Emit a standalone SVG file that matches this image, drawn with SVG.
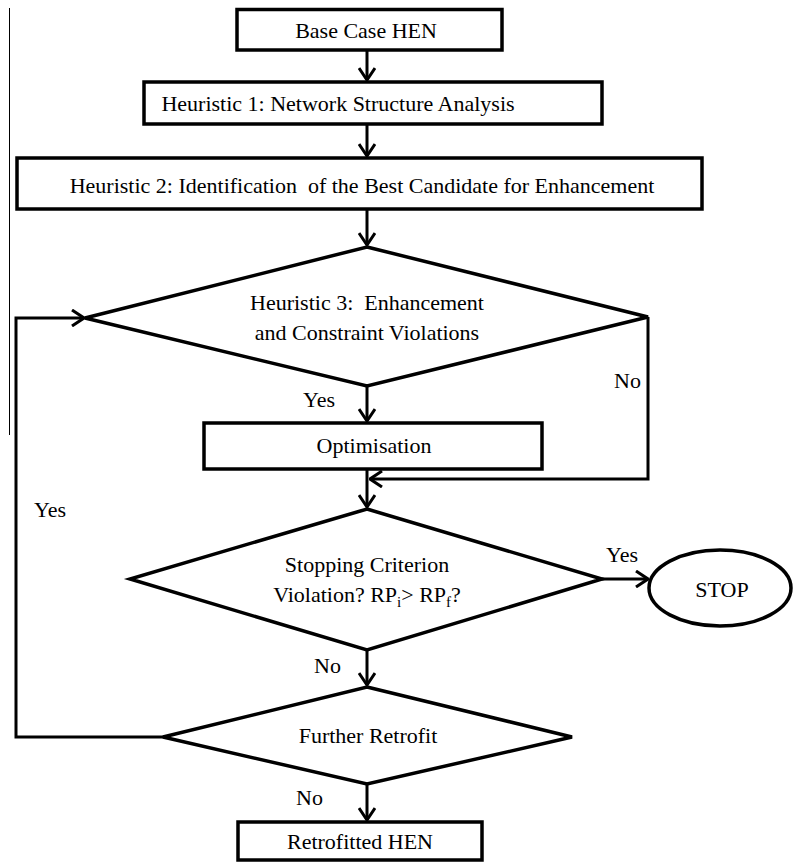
<svg xmlns="http://www.w3.org/2000/svg" width="793" height="862" viewBox="0 0 793 862">
  <style>
    .box { fill: #fff; stroke: #000; stroke-width: 3.5; }
    .line { fill: none; stroke: #000; stroke-width: 3; }
    .t { font-family: "Liberation Serif", "DejaVu Serif", "Noto Serif", serif; font-size: 22px; fill: #000; white-space: pre; }
    .c { text-anchor: middle; }
    .sub { font-size: 15px; }
  </style>
  <defs>
    <marker id="arrow" viewBox="0 0 14 18" refX="13" refY="9" markerWidth="14" markerHeight="18" markerUnits="userSpaceOnUse" orient="auto">
      <path d="M1,1 L13,9 L1,17" fill="none" stroke="#000" stroke-width="3"/>
    </marker>
  </defs>
  <rect width="793" height="862" fill="#fff"/>
  <!-- thin margin rule on the left -->
  <line x1="9.5" y1="8" x2="9.5" y2="435" stroke="#000" stroke-width="1"/>

  <g id="connectors">
    <path class="line" d="M367,50 V80" marker-end="url(#arrow)"/>
    <path class="line" d="M367,124 V156" marker-end="url(#arrow)"/>
    <path class="line" d="M367,209 V245" marker-end="url(#arrow)"/>
    <path class="line" d="M367,386 V421" marker-end="url(#arrow)"/>
    <path class="line" d="M648,317 V479 H370" marker-end="url(#arrow)"/>
    <path class="line" d="M367,469 V507" marker-end="url(#arrow)"/>
    <path class="line" d="M602,579 H648" marker-end="url(#arrow)"/>
    <path class="line" d="M367,650 V685" marker-end="url(#arrow)"/>
    <path class="line" d="M163,737 H16 V318 H84" marker-end="url(#arrow)"/>
    <path class="line" d="M367,784 V820" marker-end="url(#arrow)"/>
    <text class="t" x="303" y="407">Yes</text>
    <text class="t" x="614" y="388">No</text>
    <text class="t" x="606" y="562">Yes</text>
    <text class="t" x="314" y="673">No</text>
    <text class="t" x="34" y="517">Yes</text>
    <text class="t" x="296" y="805">No</text>
  </g>

  <g id="base-case">
    <rect class="box" x="237" y="9.5" width="265" height="40.5"/>
    <text class="t c" x="366" y="38">Base Case HEN</text>
  </g>

  <g id="heuristic-1">
    <rect class="box" x="144" y="82" width="458" height="42"/>
    <text class="t c" x="338" y="111">Heuristic 1: Network Structure Analysis</text>
  </g>

  <g id="heuristic-2">
    <rect class="box" x="17" y="158" width="685" height="51"/>
    <text class="t c" x="362" y="193">Heuristic 2: Identification  of the Best Candidate for Enhancement</text>
  </g>

  <g id="heuristic-3">
    <polygon class="box" points="367,247 648,317 367,386 85,318"/>
    <text class="t c" x="367" y="310">Heuristic 3:  Enhancement</text>
    <text class="t c" x="367" y="340">and Constraint Violations</text>
  </g>

  <g id="optimisation">
    <rect class="box" x="204" y="423" width="338" height="46"/>
    <text class="t c" x="374" y="453">Optimisation</text>
  </g>

  <g id="stopping-criterion">
    <polygon class="box" points="367,509 602,579 367,650 130,579"/>
    <text class="t c" x="367" y="572">Stopping Criterion</text>
    <text class="t c" x="367" y="602">Violation? RP<tspan class="sub" dy="5">i</tspan><tspan dy="-5">&gt; RP</tspan><tspan class="sub" dy="5">f</tspan><tspan dy="-5">?</tspan></text>
  </g>

  <g id="stop">
    <ellipse class="box" cx="720" cy="588" rx="71" ry="38"/>
    <text class="t c" x="722" y="597">STOP</text>
  </g>

  <g id="further-retrofit">
    <polygon class="box" points="367,687 572,737 367,784 163,737"/>
    <text class="t c" x="368" y="743">Further Retrofit</text>
  </g>

  <g id="retrofitted">
    <rect class="box" x="238" y="822" width="244" height="38"/>
    <text class="t c" x="360" y="849">Retrofitted HEN</text>
  </g>
</svg>
